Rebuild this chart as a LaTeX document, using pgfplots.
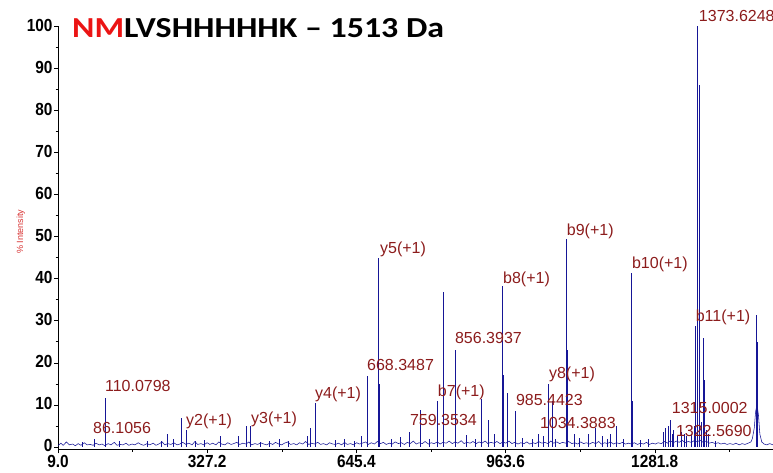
\documentclass[border=0pt]{standalone}
\usepackage{pgfplots}
\pgfplotsset{compat=1.18}
\usepackage{fontspec}
\setmainfont{Liberation Sans}
\newfontfamily\tickfont[FakeStretch=0.88]{Liberation Sans}
\newfontfamily\titlefont[FakeStretch=1.17]{Carlito}
\definecolor{spec}{RGB}{22,22,150}
\definecolor{lbl}{RGB}{140,28,28}
\definecolor{ttlred}{RGB}{235,20,20}
\definecolor{ylab}{RGB}{215,50,50}
\begin{document}
\begin{tikzpicture}[x=1pt,y=1pt]
\useasboundingbox (0,0) rectangle (773,473);
\begin{axis}[
  at={(58pt,23.5pt)}, anchor=south west,
  scale only axis, width=715pt, height=423.5pt,
  xmin=9, xmax=1534, ymin=-0.6, ymax=100,
  axis lines*=left, axis line style={-, black, line width=0.6pt},
  xtick={9,327.2,645.4,963.6,1281.8},
  xticklabels={9.0,327.2,645.4,963.6,1281.8},
  minor xtick={168.1,486.3,804.5,1122.7,1440.9},
  ytick={0,10,...,100}, minor ytick={5,15,...,95},
  tick align=outside, major tick length=4pt, minor tick length=2.5pt,
  tick style={black, line width=0.5pt},
  ticklabel style={font=\tickfont\bfseries\fontsize{17.5}{18}\selectfont},
  xticklabel style={yshift=2pt},
  yticklabel style={xshift=2pt, yshift=1pt},
  /pgf/number format/assume math mode=true,
  ylabel={\% Intensity},
  ylabel style={at={(axis description cs:-0.052,0.514)}, anchor=center, rotate=0, text=ylab, font=\fontsize{9}{10}\selectfont, inner sep=0pt},
  title={\textcolor{ttlred}{NM}LVSHHHHHK – 1513 Da},
  title style={at={(axis description cs:0.0196,0.981)}, anchor=west, inner sep=0pt, font=\titlefont\bfseries\fontsize{29}{30}\selectfont},
  clip=false,
]
% baseline noise
\addplot[spec, line width=0.55pt, mark=none] coordinates {
(9,0.3)(15,0.9)(20,0.4)(27,1.2)(33,0.5)(40,0.7)(46,0.3)(52,0.8)(58,0.4)(65,1.0)(71,0.5)(78,0.6)(84,0.4)(90,0.9)(97,0.5)(103,0.7)(109,0.3)(116,0.8)(122,0.5)(129,1.1)(135,0.4)(141,0.6)(148,0.5)(154,0.9)(160,0.4)(167,0.7)(173,0.5)(180,1.0)(186,0.6)(192,0.4)(199,0.8)(205,0.5)(212,0.9)(218,0.4)(224,0.7)(231,1.2)(237,0.5)(243,0.8)(250,0.6)(256,1.0)(263,0.5)(269,0.7)(275,1.1)(282,0.6)(288,0.9)(295,0.5)(301,1.3)(307,0.6)(314,0.8)(320,0.5)(327,1.0)(333,0.6)(339,0.9)(346,0.5)(352,1.2)(358,0.7)(365,0.5)(371,1.0)(378,0.6)(384,0.8)(390,1.1)(397,0.6)(403,0.9)(410,0.7)(416,1.2)(422,0.5)(429,0.8)(435,0.6)(441,1.0)(448,0.7)(454,0.5)(461,0.9)(467,0.6)(473,1.1)(480,0.7)(486,0.5)(492,0.9)(499,1.2)(505,0.6)(512,0.8)(518,0.5)(524,1.0)(531,0.7)(537,1.3)(544,0.6)(550,0.9)(556,0.7)(563,1.1)(569,0.6)(575,0.8)(582,0.5)(588,1.0)(595,0.7)(601,0.6)(607,0.9)(614,0.5)(620,1.1)(626,0.6)(633,0.8)(639,0.5)(646,1.0)(652,0.7)(658,0.9)(665,1.2)(671,0.6)(677,1.0)(684,0.7)(690,1.3)(697,0.8)(703,1.1)(709,0.6)(716,0.9)(722,0.7)(728,1.2)(735,0.8)(741,1.0)(748,0.6)(754,1.1)(760,0.8)(767,1.4)(773,0.7)(779,1.0)(786,0.8)(792,1.3)(799,0.7)(805,1.0)(811,0.8)(818,1.2)(824,0.7)(830,1.1)(837,0.9)(843,1.4)(850,0.8)(856,1.2)(862,0.9)(869,1.5)(875,0.8)(881,1.1)(888,0.9)(894,1.3)(901,0.8)(907,1.2)(913,0.9)(920,1.4)(926,0.8)(932,1.1)(939,0.9)(945,1.3)(952,0.8)(958,1.2)(964,0.9)(971,1.4)(977,0.8)(983,1.1)(990,0.7)(996,1.0)(1003,0.8)(1009,1.2)(1015,0.7)(1022,1.0)(1028,0.8)(1034,1.3)(1041,0.9)(1047,1.1)(1054,0.8)(1060,1.4)(1066,0.9)(1073,1.2)(1079,0.8)(1085,1.1)(1092,0.9)(1098,1.3)(1105,0.8)(1111,1.0)(1117,0.7)(1124,1.2)(1130,0.8)(1136,1.0)(1143,0.7)(1149,1.1)(1156,0.8)(1162,1.3)(1168,0.7)(1175,1.0)(1181,0.8)(1187,1.2)(1194,0.7)(1200,1.0)(1207,0.8)(1213,1.1)(1219,0.7)(1226,0.9)(1232,0.7)(1238,1.0)(1245,0.6)(1251,0.9)(1258,0.7)(1264,1.1)(1270,0.6)(1277,0.9)(1283,0.7)(1289,1.0)(1296,0.8)(1302,1.3)(1309,0.9)(1315,1.5)(1321,1.0)(1328,1.4)(1334,1.1)(1340,1.6)(1347,1.0)(1353,1.3)(1360,1.1)(1366,1.5)(1372,1.2)(1379,1.6)(1385,1.1)(1391,1.4)(1398,0.9)(1404,1.1)(1411,0.8)(1417,1.0)(1423,0.7)(1430,0.9)(1436,0.6)(1442,0.8)(1449,0.6)(1455,0.9)(1462,0.5)(1468,0.8)(1474,0.6)(1481,0.9)(1487,1.2)(1490,2.0)(1494,4.5)(1497,8.5)(1500,10)(1503,7.5)(1506,3.0)(1510,1.2)(1515,0.7)(1521,0.5)(1527,0.8)(1534,0.5)
};
% small peaks
\addplot[ycomb, spec, line width=0.55pt, mark=none] coordinates {
(60,1.2)(140,1.3)(200,1.5)(230,1.4)(320,1.6)(440,1.2)(480,1.8)(500,1.5)(600,1.6)(620,2.0)(640,1.4)(655,2.5)(720,1.8)(740,2.4)(800,2.0)(880,2.8)(900,2.0)(940,3.0)(1000,2.2)(1020,2.0)(1045,2.5)(1070,2.0)(1120,2.2)(1170,2.5)(1180,1.8)(1215,2.0)(1250,1.6)(1300,3.5)(1305,4.5)(1320,3.0)(1330,2.5)(1345,3.0)(1350,2.5)(1360,3.0)(1365,5.0)(1380,6.0)(1392,4.0)(1396,3.0)(1410,1.5)
};
% main peaks
\addplot[ycomb, spec, line width=0.8pt, mark=none] coordinates {
(86.1,1.8)(110.08,11.6)(243,3.0)(256,2.0)(273,7.0)(282,4.0)(301,1.5)(356,2.6)(393,2.6)(410,5.0)(420,5.0)(459,1.5)(540,2.5)(548,4.5)(557,10.4)(668.35,16.9)(693,45.0)(695,15.0)(759.35,3.5)(783,8.8)(819,11.0)(832,36.8)(856.39,23.0)(913,11.4)(926,6.4)(956,38.2)(958,17.0)(968,12.8)(985.44,8.6)(1034.39,3.0)(1056,15.0)(1064,11.0)(1094,49.4)(1096,23.0)(1111,3.0)(1141,3.0)(1156,4.5)(1188,3.0)(1201,5.0)(1231,41.3)(1234,11.0)(1269,2.0)(1310,5.0)(1315,6.4)(1322.57,4.0)(1339,3.5)(1369,28.7)(1373.62,100)(1376,86)(1378,13)(1386,26)(1388,16)(1499,31.3)(1501,25)
};
\begin{scope}[every node/.style={anchor=base west, inner sep=0pt, text=lbl, font=\fontsize{16}{17}\selectfont}]
\node at (axis cs:1375.7,101.1) {1373.6248};
\node at (axis cs:695.6,46.0) {y5(+1)};
\node at (axis cs:1094,50.3) {b9(+1)};
\node at (axis cs:958,38.9) {b8(+1)};
\node at (axis cs:855.5,24.5) {856.3937};
\node at (axis cs:668,18.1) {668.3487};
\node at (axis cs:819,12.1) {b7(+1)};
\node at (axis cs:1056,16.2) {y8(+1)};
\node at (axis cs:985.5,9.8) {985.4423};
\node at (axis cs:759.5,5.0) {759.3534};
\node at (axis cs:1036.7,4.5) {1034.3883};
\node at (axis cs:1318,7.9) {1315.0002};
\node at (axis cs:1326.7,2.6) {1322.5690};
\node at (axis cs:1233,42.5) {b10(+1)};
\node at (axis cs:1369,29.9) {b11(+1)};
\node at (axis cs:109,13.1) {110.0798};
\node at (axis cs:83.6,3.1) {86.1056};
\node at (axis cs:282,5.2) {y2(+1)};
\node at (axis cs:420.5,5.5) {y3(+1)};
\node at (axis cs:557,11.4) {y4(+1)};
\end{scope}
\end{axis}
\end{tikzpicture}
\end{document}
